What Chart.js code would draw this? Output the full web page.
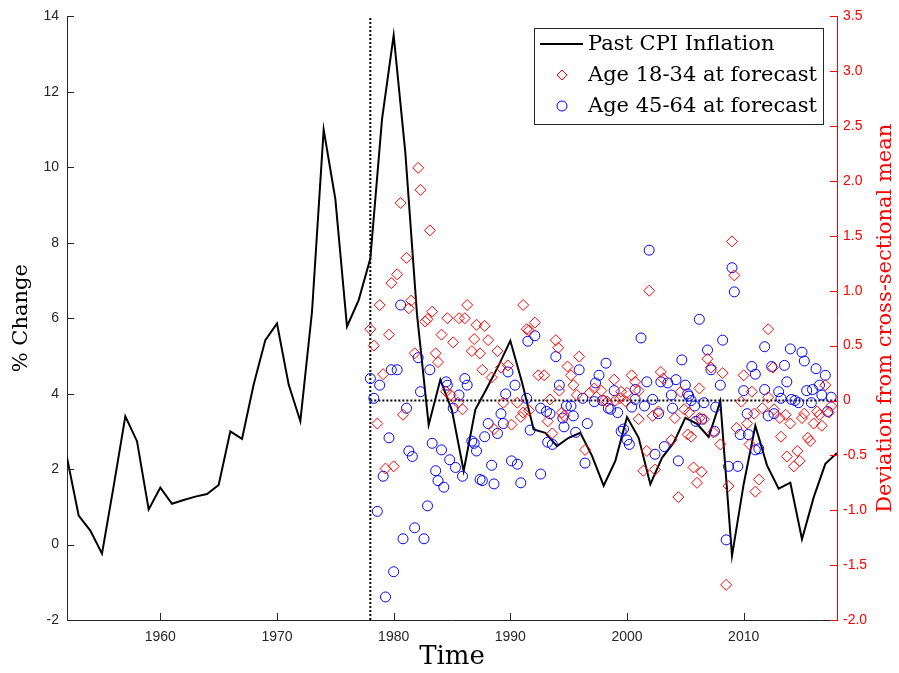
<!DOCTYPE html>
<html>
<head>
<meta charset="utf-8">
<script src="https://cdn.jsdelivr.net/npm/chart.js@4.4.1/dist/chart.umd.min.js"></script>
<style>
  html, body { margin: 0; padding: 0; background: #fff; }
  canvas { display: block; }
</style>
</head>
<body>
<canvas id="cpiChart" width="899" height="673"></canvas>
<script>
// annual CPI inflation, % change (left axis)
const years = [1952, 1953, 1954, 1955, 1956, 1957, 1958, 1959, 1960, 1961, 1962, 1963, 1964, 1965,
  1966, 1967, 1968, 1969, 1970, 1971, 1972, 1973, 1974, 1975, 1976, 1977, 1978, 1979, 1980, 1981,
  1982, 1983, 1984, 1985, 1986, 1987, 1988, 1989, 1990, 1991, 1992, 1993, 1994, 1995, 1996, 1997,
  1998, 1999, 2000, 2001, 2002, 2003, 2004, 2005, 2006, 2007, 2008, 2009, 2010, 2011, 2012, 2013,
  2014, 2015, 2016, 2017, 2018];
const cpiInflation = [2.3, 0.77, 0.37, -0.24, 1.55, 3.4, 2.74, 0.93, 1.51, 1.08, 1.18, 1.27, 1.34, 1.58,
  3.0, 2.8, 4.24, 5.42, 5.86, 4.24, 3.27, 6.17, 11.0, 9.16, 5.78, 6.48, 7.58, 11.27, 13.5, 10.39,
  6.1, 3.17, 4.37, 3.55, 1.95, 3.58, 4.15, 4.75, 5.4, 4.3, 3.05, 2.96, 2.61, 2.83, 2.96, 2.35,
  1.56, 2.22, 3.38, 2.83, 1.6, 2.3, 2.7, 3.36, 3.2, 2.85, 3.8, -0.3, 1.6, 3.15, 2.1, 1.48,
  1.64, 0.14, 1.25, 2.14, 2.43];

// deviation from cross-sectional mean (right axis), age 18-34
const youngYears = [1982.1, 1982.3, 1980.6, 1983.1, 1981.1, 1980.3, 1979.8, 1978.8, 1981.5, 1981.3,
  1986.3, 1991.1, 1983.3, 1982.7, 1982.9, 1984.6, 1985.6, 1986.1, 1987.1, 1987.8,
  1978.0, 1979.6, 1984.1, 1991.4, 1978.3, 1985.1, 1986.9, 1988.1, 1986.7, 1987.4,
  1981.8, 1983.6, 1983.8, 1988.9, 1987.6, 1989.2, 1989.8, 1979.1, 1988.4,
  1984.5, 1984.9, 1985.5, 1985.9, 1980.8, 1978.6, 1989.4, 1990.6, 1990.9, 1990.1,
  1988.6, 1991.6, 1979.3, 1980.0,
  2001.9, 1992.1, 1991.6, 1993.9, 1994.1, 1995.9, 1994.9, 1995.2, 1992.4, 1992.9,
  1994.2, 1995.4, 1995.7, 1998.9, 2000.4, 2000.7, 2002.9, 2003.1, 1997.2, 1997.8,
  1996.8, 1999.5, 2000.0, 2001.0, 1993.4, 1998.0, 1998.3, 1999.0, 1999.4, 1999.9,
  1991.1, 1994.4, 1994.6, 1993.2, 2001.0, 2002.2, 2002.7, 2004.1, 2004.6, 2004.9,
  1993.6, 2005.2, 2003.8, 1996.4, 2001.7, 2001.4, 2002.4, 2004.4,
  2009.0, 2009.2, 2012.1, 2012.5, 2006.9, 2007.2, 2008.2, 2010.0, 2010.7, 2006.2,
  2005.3, 2006.2, 2006.6, 2009.8, 2010.9, 2011.6, 2012.1, 2012.6, 2013.1, 2013.6,
  2014.0, 2015.0, 2015.2, 2016.0, 2016.3, 2016.5, 2016.7, 2017.0, 2017.3, 2017.5,
  2009.4, 2010.3, 2010.5, 2007.4, 2008.0, 2005.5, 2013.2, 2015.5, 2015.7, 2013.7,
  2014.3, 2014.6, 2014.8, 2005.7, 2006.4, 2006.0, 2008.7, 2011.3, 2011.0, 2008.5];
const youngDev = [2.12, 1.92, 1.80, 1.55, 1.30, 1.15, 1.07, 0.87, 0.91, 0.84,
  0.87, 0.87, 0.81, 0.72, 0.74, 0.75, 0.75, 0.75, 0.69, 0.68,
  0.65, 0.60, 0.60, 0.65, 0.50, 0.53, 0.56, 0.55, 0.45, 0.43,
  0.43, 0.43, 0.35, 0.45, 0.28, 0.30, 0.32, 0.24, 0.21,
  0.08, 0.05, -0.02, -0.08, -0.13, -0.21, -0.02, -0.02, -0.15, -0.22,
  -0.26, -0.09, -0.62, -0.60,
  1.00, 0.71, 0.64, 0.55, 0.48, 0.40, 0.31, 0.23, 0.23, 0.23,
  0.09, 0.14, 0.05, 0.19, 0.23, 0.17, 0.26, 0.20, 0.11, 0.09,
  0.07, 0.08, 0.07, 0.09, 0.01, 0.00, -0.01, 0.00, 0.02, -0.01,
  -0.11, -0.11, -0.14, -0.19, -0.17, -0.14, -0.10, -0.16, 0.08, -0.08,
  -0.30, -0.31, -0.36, -0.45, -0.46, -0.64, -0.63, -0.88,
  1.45, 1.14, 0.65, 0.30, 0.38, 0.30, 0.25, 0.23, 0.08, 0.11,
  -0.11, -0.16, -0.17, -0.01, -0.12, -0.07, 0.03, -0.08, -0.16, -0.13,
  -0.21, -0.16, -0.12, -0.21, -0.10, -0.13, -0.23, 0.14, -0.11, -0.05,
  -0.25, -0.21, -0.40, -0.29, -0.40, -0.33, -0.33, -0.34, -0.37, -0.51,
  -0.60, -0.46, -0.55, -0.61, -0.65, -0.75, -0.78, -0.72, -0.83, -1.68];

// deviation from cross-sectional mean (right axis), age 45-64
const oldYears = [1980.6, 1982.1, 1983.1, 1979.8, 1980.3, 1978.0, 1986.1, 1989.8, 1991.5, 1984.5,
  1978.8, 1978.3, 1982.3, 1984.6, 1986.3, 1985.6, 1985.1, 1981.1, 1989.6, 1990.4,
  1991.4, 1989.2, 1988.1, 1989.4, 1988.9, 1987.8, 1991.7, 1979.6, 1983.3, 1984.1,
  1981.3, 1981.6, 1986.7, 1986.9, 1987.1, 1984.8, 1990.1, 1990.6, 1988.4, 1985.3,
  1983.6, 1985.9, 1979.1, 1983.8, 1987.4, 1987.6, 1988.6, 1990.9, 1984.3, 1978.6,
  1982.9, 1981.8, 1980.8, 1982.6, 1980.0, 1979.3,
  2001.9, 2001.2, 1992.1, 1993.9, 1995.9, 1998.2, 1997.6, 1997.3, 1994.2, 2004.7,
  2001.7, 2002.9, 2003.5, 2004.2, 2005.0, 1998.9, 2000.7, 2003.8, 1996.2, 1997.2,
  1997.9, 1992.6, 1993.1, 1993.4, 1994.8, 1995.2, 1995.4, 1998.4, 1998.6, 1999.2,
  2000.4, 2000.7, 2001.5, 2002.2, 2002.7, 2003.9, 2005.3, 1994.5, 1994.6, 1996.6,
  1995.6, 1999.5, 1999.7, 2000.0, 2000.2, 1993.2, 1993.6, 2002.4, 2003.2, 2004.4,
  1996.4, 1992.6,
  2009.0, 2009.2, 2006.2, 2008.2, 2006.9, 2011.8, 2014.0, 2015.0, 2015.2, 2007.2,
  2010.7, 2011.0, 2012.4, 2013.5, 2016.2, 2017.0, 2013.7, 2008.0, 2010.0, 2011.8,
  2013.0, 2005.2, 2005.5, 2005.8, 2006.6, 2007.6, 2013.2, 2014.1, 2014.4, 2014.7,
  2015.4, 2015.9, 2016.5, 2015.8, 2016.7, 2017.5, 2017.2, 2010.3, 2012.1, 2012.6,
  2005.9, 2006.4, 2007.5, 2009.7, 2010.4, 2011.0, 2011.3, 2008.7, 2009.5, 2008.5];
const oldDev = [0.87, 0.39, 0.28, 0.28, 0.28, 0.20, 0.20, 0.26, 0.54, 0.17,
  0.14, 0.02, 0.08, 0.14, 0.14, 0.05, -0.07, -0.07, 0.06, 0.14,
  0.02, -0.12, -0.21, -0.21, -0.30, -0.33, -0.27, -0.34, -0.39, -0.45,
  -0.46, -0.51, -0.37, -0.39, -0.46, -0.54, -0.55, -0.58, -0.59, -0.61,
  -0.64, -0.69, -0.69, -0.73, -0.72, -0.73, -0.76, -0.75, -0.79, -1.01,
  -0.96, -1.16, -1.26, -1.26, -1.56, -1.79,
  1.37, 0.57, 0.59, 0.40, 0.28, 0.34, 0.23, 0.16, 0.14, 0.37,
  0.17, 0.17, 0.16, 0.19, 0.14, 0.09, 0.10, 0.05, 0.02, -0.01,
  0.00, -0.07, -0.10, -0.12, -0.05, -0.05, -0.14, -0.07, -0.08, -0.11,
  -0.06, 0.01, -0.05, 0.01, -0.12, -0.07, 0.04, -0.16, -0.24, -0.21,
  -0.29, -0.28, -0.26, -0.36, -0.40, -0.38, -0.40, -0.49, -0.42, -0.55,
  -0.57, -0.67,
  1.21, 0.99, 0.74, 0.55, 0.46, 0.49, 0.47, 0.44, 0.36, 0.28,
  0.31, 0.24, 0.31, 0.32, 0.29, 0.23, 0.17, 0.14, 0.09, 0.10,
  0.08, 0.06, 0.00, -0.05, -0.02, -0.06, 0.02, 0.01, 0.00, -0.02,
  0.09, 0.10, 0.14, -0.02, 0.05, 0.03, -0.10, -0.12, -0.14, -0.12,
  -0.19, -0.17, -0.28, -0.31, -0.31, -0.45, -0.44, -0.60, -0.60, -1.27];

// axis ranges and ticks
const xRange = [1952, 2018];
const xTickYears = [1960, 1970, 1980, 1990, 2000, 2010];
const leftRange = [-2, 14];
const rightRange = [-2, 3.5];
const surveyStart = 1978; // forecasts start here (dotted lines)

const legendLabels = ['Past CPI Inflation', 'Age 18-34 at forecast', 'Age 45-64 at forecast'];

const axisGray = '#262626';
const red = '#ff0000';
const blue = '#0000ff';
const serif = '"DejaVu Serif", serif';
const sans = '"Liberation Sans", Arial, sans-serif';
const tickLen = 7;

const toPoints = (xs, ys) => xs.map((x, i) => ({ x: x, y: ys[i] }));

// inward tick marks, right axis title and the legend box
const decor = {
  id: 'decor',
  afterDraw(chart) {
    const ctx = chart.ctx;
    const a = chart.chartArea;
    const sx = chart.scales.x, sy = chart.scales.y, sy1 = chart.scales.y1;
    ctx.save();
    ctx.lineWidth = 1;

    ctx.strokeStyle = axisGray;
    sx.ticks.forEach(t => {
      const px = Math.round(sx.getPixelForValue(t.value)) + 0.5;
      ctx.beginPath(); ctx.moveTo(px, a.bottom); ctx.lineTo(px, a.bottom - tickLen); ctx.stroke();
    });
    sy.ticks.forEach(t => {
      const py = Math.round(sy.getPixelForValue(t.value)) + 0.5;
      ctx.beginPath(); ctx.moveTo(a.left, py); ctx.lineTo(a.left + tickLen, py); ctx.stroke();
    });
    ctx.strokeStyle = red;
    sy1.ticks.forEach(t => {
      const py = Math.round(sy1.getPixelForValue(t.value)) + 0.5;
      ctx.beginPath(); ctx.moveTo(a.right, py); ctx.lineTo(a.right - tickLen, py); ctx.stroke();
    });

    // right axis title reads bottom to top
    ctx.fillStyle = red;
    ctx.font = '21px ' + serif;
    ctx.textAlign = 'center';
    ctx.textBaseline = 'middle';
    ctx.translate(886, (a.top + a.bottom) / 2);
    ctx.rotate(-Math.PI / 2);
    ctx.fillText('Deviation from cross-sectional mean', 0, 0);
    ctx.setTransform(1, 0, 0, 1, 0, 0);

    // legend
    const bx = 534.5, by = 28.5, bw = 289, bh = 96;
    ctx.fillStyle = '#fff';
    ctx.fillRect(bx, by, bw, bh);
    ctx.strokeStyle = axisGray;
    ctx.strokeRect(bx, by, bw, bh);
    const rows = [44, 75, 106];
    ctx.strokeStyle = '#000';
    ctx.lineWidth = 2;
    ctx.beginPath(); ctx.moveTo(540, rows[0]); ctx.lineTo(583, rows[0]); ctx.stroke();
    ctx.lineWidth = 1;
    ctx.strokeStyle = red;
    ctx.beginPath();
    ctx.moveTo(562, rows[1] - 5); ctx.lineTo(567, rows[1]); ctx.lineTo(562, rows[1] + 5); ctx.lineTo(557, rows[1]);
    ctx.closePath(); ctx.stroke();
    ctx.strokeStyle = blue;
    ctx.beginPath(); ctx.arc(562, rows[2], 5, 0, Math.PI * 2); ctx.stroke();
    ctx.fillStyle = '#000';
    ctx.font = '21px ' + serif;
    ctx.textAlign = 'left';
    ctx.textBaseline = 'middle';
    legendLabels.forEach((lab, i) => ctx.fillText(lab, 588, rows[i] + 1));
    ctx.restore();
  }
};

new Chart(document.getElementById('cpiChart'), {
  type: 'scatter',
  data: {
    datasets: [
      {
        label: legendLabels[1],
        data: toPoints(youngYears, youngDev),
        yAxisID: 'y1',
        pointStyle: 'rectRot',
        pointRadius: 5.5,
        borderColor: red,
        backgroundColor: 'rgba(0,0,0,0)',
        borderWidth: 1
      },
      {
        label: legendLabels[2],
        data: toPoints(oldYears, oldDev),
        yAxisID: 'y1',
        pointStyle: 'circle',
        pointRadius: 5,
        borderColor: blue,
        backgroundColor: 'rgba(0,0,0,0)',
        borderWidth: 1
      },
      {
        label: 'zero deviation',
        type: 'line',
        data: toPoints([surveyStart, xRange[1]], [0, 0]),
        yAxisID: 'y1',
        borderColor: '#000',
        borderWidth: 2,
        borderDash: [2, 2],
        pointRadius: 0
      },
      {
        label: 'survey start',
        type: 'line',
        data: toPoints([surveyStart, surveyStart], leftRange),
        yAxisID: 'y',
        borderColor: '#000',
        borderWidth: 2,
        borderDash: [2, 2],
        pointRadius: 0
      },
      {
        label: legendLabels[0],
        type: 'line',
        data: toPoints(years, cpiInflation),
        yAxisID: 'y',
        borderColor: '#000',
        borderWidth: 2,
        pointRadius: 0,
        tension: 0
      }
    ]
  },
  options: {
    responsive: false,
    animation: false,
    layout: { padding: { top: 13, left: 0, right: 0, bottom: 0 } },
    plugins: { legend: { display: false }, tooltip: { enabled: false } },
    scales: {
      x: {
        type: 'linear',
        min: xRange[0],
        max: xRange[1],
        afterBuildTicks: s => { s.ticks = xTickYears.map(v => ({ value: v })); },
        afterFit: s => { s.height = 53; },
        grid: { display: false, drawTicks: false },
        border: { display: true, color: axisGray, width: 1 },
        ticks: { padding: 9, color: axisGray, font: { family: sans, size: 14 }, callback: v => String(v), maxRotation: 0 },
        title: { display: true, text: 'Time', color: '#000', font: { family: serif, size: 26 }, padding: { top: 0, bottom: 0 } }
      },
      y: {
        position: 'left',
        min: leftRange[0],
        max: leftRange[1],
        afterFit: s => { s.width = 67; },
        grid: { display: false, drawTicks: false },
        border: { display: true, color: axisGray, width: 1 },
        ticks: { stepSize: 2, padding: 8, color: axisGray, font: { family: sans, size: 14 } },
        title: { display: true, text: '% Change', color: '#000', font: { family: serif, size: 21 }, padding: { top: 9, bottom: 0 } }
      },
      y1: {
        position: 'right',
        min: rightRange[0],
        max: rightRange[1],
        afterFit: s => { s.width = 62; },
        grid: { display: false, drawTicks: false },
        border: { display: true, color: red, width: 1 },
        ticks: { stepSize: 0.5, padding: 6, color: red, font: { family: sans, size: 14 } }
      }
    }
  },
  plugins: [decor]
});
</script>
</body>
</html>
